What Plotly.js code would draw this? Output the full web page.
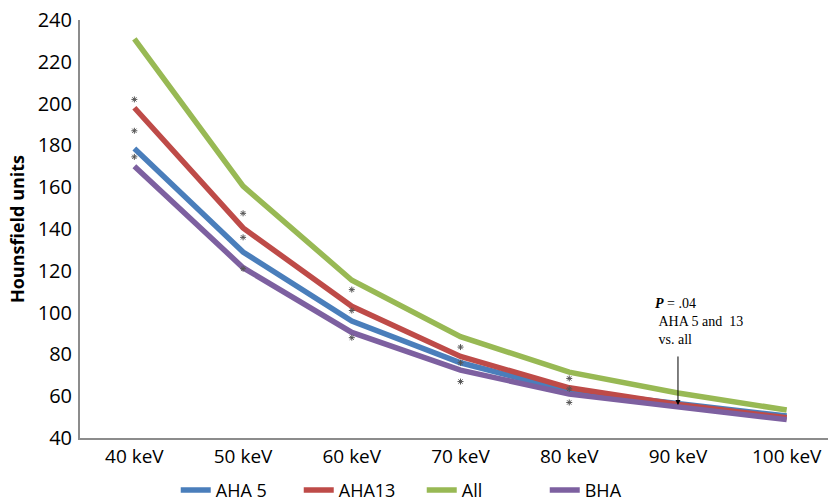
<!DOCTYPE html>
<html>
<head>
<meta charset="utf-8">
<script src="https://cdn.plot.ly/plotly-3.0.1.min.js"></script>
<style>html,body{margin:0;padding:0;background:#fff;}#chart{width:828px;height:502px;}</style>
</head>
<body>
<div id="chart"></div>
<script>
const categories = ['40 keV', '50 keV', '60 keV', '70 keV', '80 keV', '90 keV', '100 keV'];
const aha5  = [178.5, 129, 96, 76, 62.5, 56.5, 50.5];
const aha13 = [198, 140.5, 103, 79, 64, 56, 49.7];
const allSeg = [231, 160.5, 115.5, 88.5, 71.5, 61.5, 53.4];
const bha   = [170, 121.5, 90.5, 72.5, 61, 55, 48.8];

const starCats = ['40 keV','40 keV','40 keV','50 keV','50 keV','50 keV','60 keV','60 keV','60 keV','70 keV','70 keV','70 keV','80 keV','80 keV','80 keV'];
const starVals = [202, 187, 174.5, 147.5, 136, 121, 111, 101, 88, 83.5, 76, 67, 68.5, 63.5, 57];

const noteCat = '90 keV';
const noteVal = 55.8;
const noteText = '<b><i>P</i></b> = .04<br>\u00a0AHA 5 and\u00a0 13<br>\u00a0vs. all';

const colors = {aha5:'#4a7ebb', aha13:'#be4b48', all:'#98b954', bha:'#7d60a0'};

const traces = [
  {x: categories, y: aha5, name: 'AHA 5', mode: 'lines', line: {color: colors.aha5, width: 5.5}},
  {x: categories, y: aha13, name: 'AHA13', mode: 'lines', line: {color: colors.aha13, width: 5.5}},
  {x: categories, y: allSeg, name: 'All', mode: 'lines', line: {color: colors.all, width: 5.5}},
  {x: categories, y: bha, name: 'BHA', mode: 'lines', line: {color: colors.bha, width: 5.5}},
  {x: starCats, y: starVals, mode: 'markers', showlegend: false, hoverinfo: 'skip',
   marker: {symbol: 'asterisk-open', size: 5, color: '#555', line: {color: '#555', width: 1}}}
];

const layout = {
  width: 828, height: 502,
  margin: {l: 80, r: 0, t: 20, b: 64, autoexpand: false},
  paper_bgcolor: '#fff', plot_bgcolor: '#fff',
  font: {family: 'Open Sans, sans-serif', color: '#000'},
  xaxis: {
    type: 'category', range: [-0.5, 6.38],
    showgrid: false, zeroline: false, showline: true, linecolor: '#8c8c8c', linewidth: 2,
    ticks: '', tickfont: {size: 19, color: '#000'}, fixedrange: true
  },
  yaxis: {
    range: [40, 240], dtick: 20,
    showgrid: false, zeroline: false, showline: true, linecolor: '#8c8c8c', linewidth: 2,
    ticks: '', tickfont: {size: 20, color: '#000'}, ticklabelstandoff: 2,
    title: {text: '<b>Hounsfield units</b>', font: {size: 18, color: '#000'}, standoff: 8}
  },
  legend: {
    orientation: 'h', x: 0.128, xanchor: 'left', y: -0.081, yanchor: 'top',
    font: {size: 18, color: '#000'}, itemwidth: 30, traceorder: 'normal',
    entrywidth: 78
  },
  annotations: [
    {x: noteCat, y: noteVal, xref: 'x', yref: 'y', text: '', showarrow: true,
     arrowhead: 2, arrowsize: 1, arrowwidth: 1, arrowcolor: '#000', ax: 0, ay: -50},
    {x: noteCat, y: noteVal, xref: 'x', yref: 'y', text: noteText, showarrow: false,
     xanchor: 'left', yanchor: 'bottom', align: 'left', xshift: -25, yshift: 56,
     font: {family: 'Liberation Serif, serif', size: 14, color: '#000'}}
  ],
  showlegend: true
};

Plotly.newPlot('chart', traces, layout, {displayModeBar: false, staticPlot: true});
</script>
</body>
</html>
